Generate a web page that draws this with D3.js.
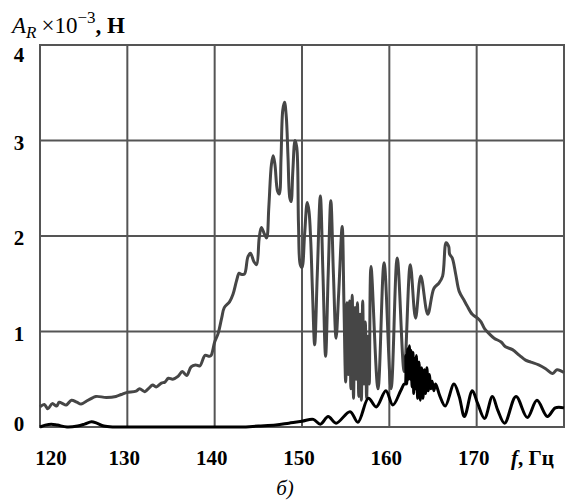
<!DOCTYPE html>
<html>
<head>
<meta charset="utf-8">
<script src="https://cdn.jsdelivr.net/npm/d3@7"></script>
<style>
  body { margin: 0; background: #fff; }
  svg { display: block; }
  text { font-family: "Liberation Serif", "Times New Roman", serif; fill: #000; }
</style>
</head>
<body>
<svg width="568" height="500"></svg>
<script>
// frequency ticks / amplitude ticks
const xTicks = [120, 130, 140, 150, 160, 170];
const yTicks = [0, 1, 2, 3, 4];

// grey curve (resultant amplitude, ×10^-3 N)
const greyF = [120.0,120.5,120.9,121.4,121.9,122.2,122.6,123.0,123.6,124.2,124.7,125.3,125.9,126.4,127.6,128.7,129.3,129.9,131.0,131.4,132.0,132.5,132.9,133.3,133.9,134.3,134.7,135.2,135.8,136.3,136.8,137.3,137.8,138.3,138.9,139.4,139.6,140.0,140.4,140.8,141.1,141.7,142.1,142.5,142.8,143.0,143.4,143.8,144.1,144.5,144.8,145.1,145.35,145.7,145.95,146.2,146.5,146.7,146.9,147.2,147.4,147.6,147.8,148.0,148.2,148.4,148.6,148.75,148.95,149.2,149.4,149.6,149.8,150.0,150.3,150.6,150.8,151.0,151.2,151.45,151.75,152.1,152.4,152.7,153.0,153.3,153.6,153.9,154.2,154.6,154.8,155.0,155.15,155.3,155.45,155.6,155.75,155.9,156.05,156.2,156.35,156.5,156.65,156.8,156.95,157.1,157.25,157.4,157.55,157.7,157.9,158.7,159.4,160.2,160.9,161.7,162.4,163.0,163.6,164.4,165.1,165.7,166.1,166.5,166.8,166.9,167.2,167.6,168.0,168.6,168.9,169.5,170.1,170.5,170.9,171.4,172.0,172.8,173.3,174.1,174.9,175.6,176.2,177.1,177.9,178.7,179.2,180.0];
const greyA = [0.21,0.235,0.19,0.245,0.22,0.26,0.245,0.23,0.28,0.26,0.24,0.27,0.30,0.32,0.31,0.32,0.34,0.36,0.375,0.40,0.37,0.41,0.44,0.42,0.46,0.47,0.51,0.50,0.53,0.58,0.54,0.63,0.65,0.64,0.75,0.74,0.75,0.89,0.98,1.14,1.25,1.31,1.39,1.53,1.61,1.60,1.60,1.78,1.82,1.73,1.70,1.98,2.09,2.02,1.98,2.30,2.75,2.84,2.75,2.47,2.44,2.82,3.32,3.40,3.25,2.82,2.40,2.36,2.68,3.0,2.93,2.12,1.70,1.67,2.02,2.35,2.26,1.95,1.42,0.86,1.6,2.42,1.6,0.74,1.6,2.37,1.6,0.93,1.4,2.1,1.3,0.47,1.30,0.55,1.32,0.40,1.38,0.30,1.25,0.50,1.30,0.32,1.18,0.28,1.32,0.45,1.10,0.30,0.95,0.45,1.68,0.40,1.72,0.40,1.77,0.58,1.70,1.14,1.58,1.18,1.45,1.51,1.58,1.93,1.89,1.81,1.77,1.60,1.42,1.32,1.27,1.18,1.14,1.10,1.03,0.98,0.93,0.89,0.84,0.81,0.75,0.70,0.68,0.65,0.61,0.56,0.60,0.57];

// black curve
const blackF = [120.0,120.6,121.3,122.0,123.1,124.3,125.1,125.9,126.5,127.3,128.5,130,135,140,143,145,147,148.5,150.0,151.3,152.1,153.0,153.9,155.5,156.4,157.6,158.5,159.6,160.4,161.3,161.7,161.8,161.9,162.0,162.1,162.2,162.3,162.4,162.5,162.6,162.7,162.8,162.9,163.0,163.1,163.25,163.4,163.55,163.7,163.85,164.0,164.15,164.3,164.45,164.6,164.75,164.9,165.1,165.3,165.8,166.4,167.4,168.0,168.6,169.5,170.1,170.9,171.8,172.4,173.2,174.5,175.8,176.9,178.1,179.0,180.0];
const blackA = [0.0,0.02,0.03,0.02,0.0,0.01,0.03,0.055,0.04,0.01,0.0,0.0,0.0,0.0,0.0,0.01,0.02,0.04,0.06,0.08,0.03,0.11,0.04,0.16,0.05,0.30,0.21,0.38,0.23,0.38,0.45,0.45,0.75,0.45,0.82,0.5,0.85,0.5,0.8,0.42,0.78,0.35,0.72,0.4,0.75,0.3,0.68,0.28,0.62,0.3,0.6,0.35,0.62,0.38,0.55,0.4,0.48,0.38,0.45,0.32,0.22,0.45,0.32,0.11,0.38,0.25,0.09,0.32,0.18,0.04,0.32,0.10,0.28,0.11,0.20,0.20];

const svg = d3.select("svg");
const x = d3.scaleLinear().domain([120, 180]).range([40, 564]);
const y = d3.scaleLinear().domain([0, 4]).range([427, 45]);

// grid
const grid = svg.append("g").attr("stroke", "#555").attr("stroke-width", 2);
grid.selectAll("line.v").data(xTicks.slice(1)).enter().append("line")
    .attr("x1", d => x(d)).attr("x2", d => x(d))
    .attr("y1", y(0)).attr("y2", y(4));
grid.selectAll("line.h").data(yTicks.slice(1, -1)).enter().append("line")
    .attr("x1", x(120)).attr("x2", x(180))
    .attr("y1", d => y(d)).attr("y2", d => y(d));
svg.append("rect")
    .attr("x", x(120)).attr("y", y(4))
    .attr("width", x(180) - x(120)).attr("height", y(0) - y(4))
    .attr("fill", "none").attr("stroke", "#555").attr("stroke-width", 2);

const line = d3.line()
    .x(d => x(d[0]))
    .y(d => y(d[1]))
    .curve(d3.curveCatmullRom.alpha(0.5));

svg.append("path")
    .datum(greyF.map((f, i) => [f, greyA[i]]))
    .attr("d", line)
    .attr("fill", "none")
    .attr("stroke", "#464646")
    .attr("stroke-width", 3)
    .attr("stroke-linejoin", "round");

svg.append("path")
    .datum(blackF.map((f, i) => [f, blackA[i]]))
    .attr("d", line)
    .attr("fill", "none")
    .attr("stroke", "#000")
    .attr("stroke-width", 3)
    .attr("stroke-linejoin", "round");

// tick labels
svg.append("g").selectAll("text").data(yTicks).enter().append("text")
    .attr("x", 19)
    .attr("y", d => Math.max(55, Math.min(424, y(d) + 2)))
    .attr("dy", "0.35em")
    .attr("text-anchor", "middle")
    .style("font-size", "21px").style("font-weight", "bold")
    .text(d => d);

svg.append("g").selectAll("text").data(xTicks).enter().append("text")
    .attr("x", d => Math.max(51, x(d) - 3))
    .attr("y", 465)
    .attr("text-anchor", "middle")
    .style("font-size", "21px").style("font-weight", "bold")
    .text(d => d);

// axis titles
const yt = svg.append("text").attr("x", 12).attr("y", 33).style("font-size", "23px");
yt.append("tspan").style("font-style", "italic").text("A");
yt.append("tspan").style("font-style", "italic").style("font-size", "17px").attr("dy", 5).text("R");
yt.append("tspan").attr("dy", -5).attr("dx", 5).text("×10");
yt.append("tspan").style("font-size", "17px").attr("dy", -10).text("−3");
yt.append("tspan").attr("dy", 10).style("font-weight", "bold").text(", Н");

const xt = svg.append("text").attr("x", 511).attr("y", 465).style("font-size", "21px").style("font-weight", "bold");
xt.append("tspan").style("font-style", "italic").text("f");
xt.append("tspan").text(", Гц");

svg.append("text").attr("x", 285).attr("y", 495)
    .attr("text-anchor", "middle")
    .style("font-size", "21px").style("font-style", "italic")
    .text("б)");
</script>
</body>
</html>
